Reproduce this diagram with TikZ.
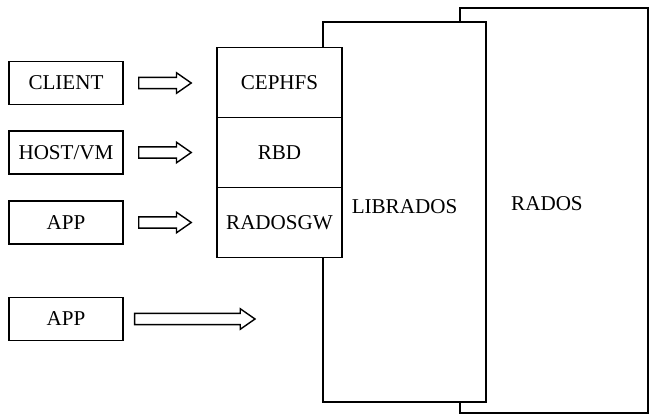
\documentclass[tikz,border=0pt]{standalone}
\usepackage{fontspec}
\setmainfont{Liberation Serif}
\usepackage{tikz}
\usetikzlibrary{calc}

\tikzset{
	box/.style = {draw, line width=1pt, fill=white, inner sep=0pt, font=\fontsize{15}{18}\selectfont},
	smallbox/.style = {box, minimum width=2.85cm, minimum height=1.075cm},
	layer/.style = {box, minimum width=3.125cm, minimum height=1.75cm},
	blockarrow/.style = {draw, line width=1pt, line join=miter, to path={let \p1=(\tikztostart), \p2=(\tikztotarget) in
		(\x1,\y1+4pt) -- (\x2-10.5pt,\y1+4pt) -- (\x2-10.5pt,\y1+7.3pt) -- (\x2,\y1)
		-- (\x2-10.5pt,\y1-7.3pt) -- (\x2-10.5pt,\y1-4pt) -- (\x1,\y1-4pt) -- cycle}}
}

\begin{document}
\begin{tikzpicture}[x=0.025cm, y=-0.025cm]
		\useasboundingbox (0,0) rectangle (649,415);
		% the two big layers
		\node (rados) at (554,210.5)[box, minimum width=4.7cm, minimum height=10.125cm,
			label={[xshift=-5pt, yshift=5pt, font=\fontsize{15}{18}\selectfont]center:RADOS}]{} ;
		\node (librados) at (404.5,212)[box, minimum width=4.075cm, minimum height=9.5cm,
			label={[yshift=3.5pt, font=\fontsize{15}{18}\selectfont]center:LIBRADOS}]{} ;
		% interfaces on top of librados
		\node (cephfs) at (279.5,82.5)[layer]{CEPHFS} ;
		\node (rbd) at (279.5,152.5)[layer]{RBD} ;
		\node (radosgw) at (279.5,222.5)[layer]{RADOSGW} ;
		% users
		\node (client) at (66,83)[smallbox]{CLIENT} ;
		\node (host) at (66,152.5)[smallbox]{HOST/VM} ;
		\node (app) at (66,222.5)[smallbox]{APP} ;
		\node (appdirect) at (66,319)[smallbox]{APP} ;
		\coordinate (tip) at (255,318.5) ;
		% arrows
		\draw[blockarrow] ([xshift=10.7pt]client.east) to ([xshift=-17.8pt]cephfs.west) ;
		\draw[blockarrow] ([xshift=10.7pt]host.east) to ([xshift=-17.8pt]rbd.west) ;
		\draw[blockarrow] ([xshift=10.7pt]app.east) to ([xshift=-17.8pt]radosgw.west) ;
		\draw[blockarrow] ([xshift=7.8pt]appdirect.east) to (tip) ;
	\end{tikzpicture}
\end{document}
